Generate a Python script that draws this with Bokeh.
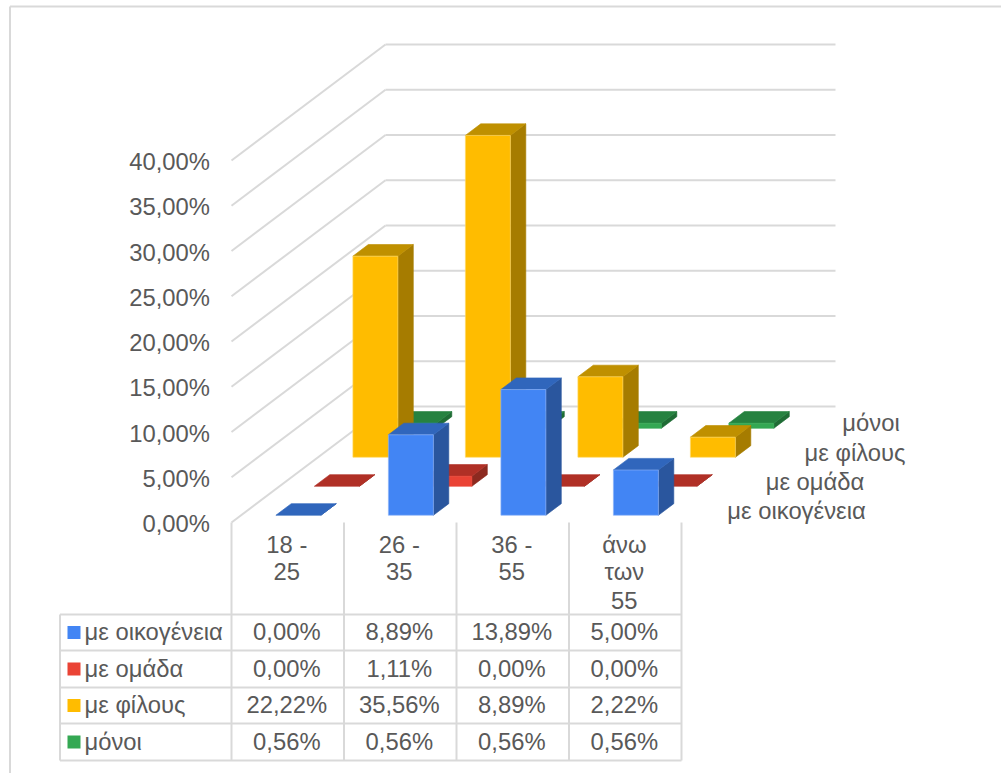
from bokeh.embed import file_html
from bokeh.models import ColumnDataSource
from bokeh.plotting import figure
from bokeh.resources import INLINE
from bokeh.core.properties import value

# Survey shares by age group and company
age_groups = ["18 -\n25", "26 -\n35", "36 -\n55", "άνω\nτων\n55"]
series_names = ["με οικογένεια", "με ομάδα", "με φίλους", "μόνοι"]
with_family = [0.00, 8.89, 13.89, 5.00]
with_group = [0.00, 1.11, 0.00, 0.00]
with_friends = [22.22, 35.56, 8.89, 2.22]
alone = [0.56, 0.56, 0.56, 0.56]
percent_ticks = [0, 5, 10, 15, 20, 25, 30, 35, 40]

series_values = [with_family, with_group, with_friends, alone]

# Face colours per series: front, top, side, highlight edge
front_colors = ["#4285F4", "#EA4335", "#FFBC00", "#34A853"]
top_colors = ["#3066BC", "#B03026", "#BF9000", "#268240"]
side_colors = ["#2A569E", "#8C2A20", "#A67C00", "#1F6C35"]
edge_colors = ["#8DB4F8", "#F28B82", "#FFD966", "#7CC98F"]
GRID = "#D9D9D9"
TEXT = "#595959"
FONT = "Liberation Sans"

# The scales: x is in category widths, y in percentage points
PX_PER_CAT = 112.5
PX_PER_PCT = 9.05
X0, Y0 = 231.0, 522.0
WIDTH, HEIGHT = 1001, 773


def px_x(px):
    return (px - X0) / PX_PER_CAT


def px_y(py):
    return (Y0 - py) / PX_PER_PCT


# Oblique depth: one series row shifts a point right and up
ROW_DX = 38.5 / PX_PER_CAT
ROW_DY = 29.0 / PX_PER_PCT
N_ROWS = len(series_names)
N_CATS = len(age_groups)
BAR_WIDTH = 0.4
BAR_NUDGE = 0.009
BAR_FRONT = 0.25
BAR_BACK = 0.65

p = figure(
    width=WIDTH, height=HEIGHT, output_backend="svg", toolbar_location=None,
    x_range=(px_x(0), px_x(WIDTH)), y_range=(px_y(HEIGHT), px_y(0)),
    min_border=0, outline_line_color=None, background_fill_color="white",
    border_fill_color="white", x_axis_type=None, y_axis_type=None,
)
p.grid.visible = False


def hline(x0, y0, x1, y1, width=2.0):
    p.line([x0, x1], [y0, y1], line_color=GRID, line_width=width)


# Outer chart frame, open to the right and bottom
hline(px_x(9.5), px_y(6), px_x(WIDTH), px_y(6))
hline(px_x(9.5), px_y(6), px_x(9.5), px_y(HEIGHT))

# Side wall and back wall gridlines
for tick in percent_ticks:
    hline(0, tick, N_ROWS * ROW_DX, tick + N_ROWS * ROW_DY)
    hline(N_ROWS * ROW_DX, tick + N_ROWS * ROW_DY,
          N_CATS + N_ROWS * ROW_DX, tick + N_ROWS * ROW_DY)

# Bars are painted from the back row to the front row
xs, ys, fills, edges = [], [], [], []


def add_face(fx, fy, fill, edge):
    xs.append(fx)
    ys.append(fy)
    fills.append(fill)
    edges.append(edge)


for row in reversed(range(N_ROWS)):
    for cat, val in enumerate(series_values[row]):
        left = cat + 0.5 + BAR_NUDGE - BAR_WIDTH / 2 + (row + BAR_FRONT) * ROW_DX
        right = left + BAR_WIDTH
        base = (row + BAR_FRONT) * ROW_DY
        top = base + val
        dx = (BAR_BACK - BAR_FRONT) * ROW_DX
        dy = (BAR_BACK - BAR_FRONT) * ROW_DY
        add_face([right, right + dx, right + dx, right],
                 [base, base + dy, top + dy, top], side_colors[row], side_colors[row])
        add_face([left, right, right + dx, left + dx],
                 [top, top, top + dy, top + dy], top_colors[row], top_colors[row])
        if val > 0:
            # Very short faces keep a plain outline so the highlight does not wash them out
            edge = edge_colors[row] if val >= 2 else front_colors[row]
            add_face([left, right, right, left],
                     [base, base, top, top], front_colors[row], edge)

p.patches(xs, ys, fill_color=fills, line_color=edges, line_width=0.8, line_alpha=0.8)


def draw_text(x, y, labels, align):
    source = ColumnDataSource(dict(x=x, y=y, text=labels))
    p.text("x", "y", "text", source=source, text_font=value(FONT),
           text_font_size="23.8px", text_color=TEXT, text_align=align,
           text_baseline="middle")


def pct(v):
    return f"{v:.2f}".replace(".", ",") + "%"


# Percentage axis labels
draw_text([px_x(209.5)] * len(percent_ticks), [t + px_y(523) for t in percent_ticks],
          [pct(t) for t in percent_ticks], "right")

# Depth axis labels
depth_x = [796, 814.5, 854.5, 870.5]
depth_y = [510, 481, 452, 422]
draw_text([px_x(v) for v in depth_x], [px_y(v) for v in depth_y], series_names, "center")

# Data table under the plot
COL_EDGES = [0, 1, 2, 3, 4]
ROW_LINES = [614, 650, 687, 723, 760]
TABLE_LEFT = 59.5
for col in COL_EDGES:
    hline(col, 0, col, px_y(ROW_LINES[-1]))
hline(px_x(TABLE_LEFT), px_y(ROW_LINES[0]), px_x(TABLE_LEFT), px_y(ROW_LINES[-1]))
for line in ROW_LINES:
    hline(px_x(TABLE_LEFT), px_y(line), N_CATS, px_y(line))

# Category labels, one text per line
label_lines = [544, 571, 600]
cat_x, cat_y, cat_text = [], [], []
for cat, label in enumerate(age_groups):
    for line_no, part in enumerate(label.split("\n")):
        cat_x.append(cat + 0.5 - 0.008)
        cat_y.append(px_y(label_lines[line_no]))
        cat_text.append(part)
draw_text(cat_x, cat_y, cat_text, "center")

# Table rows: swatch, series name, values
row_mid = [(ROW_LINES[i] + ROW_LINES[i + 1]) / 2 for i in range(len(series_names))]
p.quad(left=[px_x(67)] * N_ROWS, right=[px_x(80)] * N_ROWS,
       top=[px_y(m - 6.5) for m in row_mid], bottom=[px_y(m + 6.5) for m in row_mid],
       fill_color=front_colors, line_color=None)
draw_text([px_x(84)] * N_ROWS, [px_y(m - 1) for m in row_mid], series_names, "left")
for row, mid in enumerate(row_mid):
    draw_text([c + 0.5 - 0.008 for c in range(N_CATS)], [px_y(mid - 1)] * N_CATS,
              [pct(v) for v in series_values[row]], "center")

open("out.html", "w").write(file_html(p, INLINE))
